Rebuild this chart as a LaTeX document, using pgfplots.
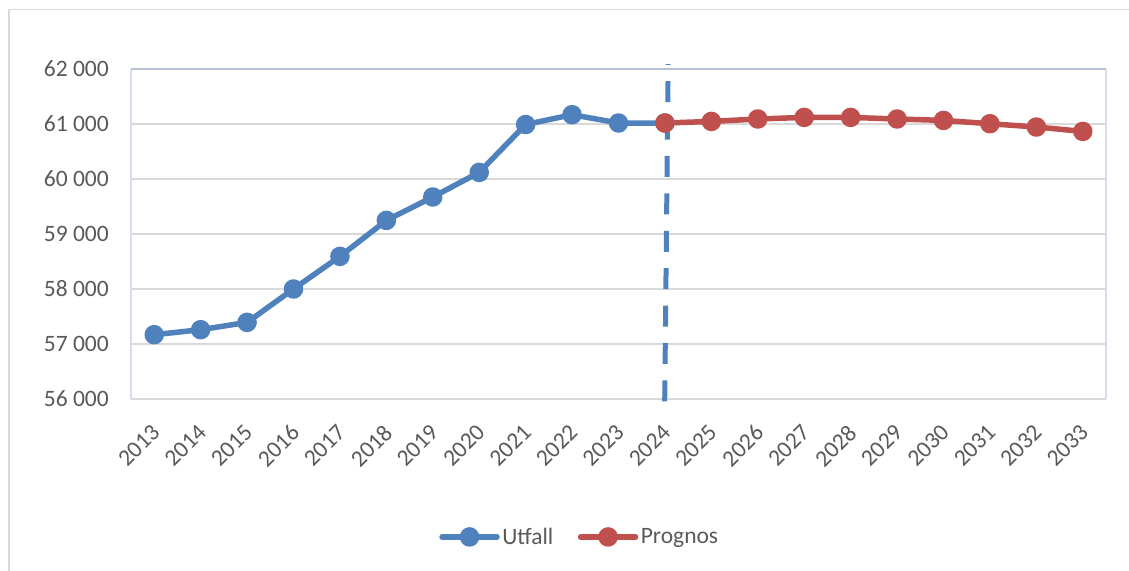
\documentclass[border=0pt]{standalone}
\usepackage{fontspec}
\setmainfont{Carlito}
\usepackage{pgfplots}
\pgfplotsset{compat=1.18}

\definecolor{utfall}{HTML}{4F81BD}
\definecolor{prognos}{HTML}{C0504D}
\definecolor{lbl}{HTML}{595959}
\definecolor{gridc}{HTML}{D9D9D9}
\definecolor{framec}{HTML}{D9D9D9}
\definecolor{axblue}{HTML}{D5DEEC}
\definecolor{axtop}{HTML}{B7C1D1}

\begin{document}
\begin{tikzpicture}
\useasboundingbox (0pt,0pt) rectangle (1129pt,570pt);
% outer chart frame (cut off at right and bottom)
\draw[framec, line width=1.5pt] (9pt,-5pt) -- (9pt,560.5pt) -- (1140pt,560.5pt);
\begin{axis}[
  at={(131pt,171pt)}, anchor=south west,
  scale only axis, width=975pt, height=330pt,
  xmin=-0.5, xmax=20.5,
  ymin=56000, ymax=62000,
  scaled y ticks=false,
  xtick={0,...,20},
  xticklabels={2013,2014,2015,2016,2017,2018,2019,2020,2021,2022,2023,2024,2025,2026,2027,2028,2029,2030,2031,2032,2033},
  ytick={56000,57000,58000,59000,60000,61000,62000},
  yticklabels={56 000,57 000,58 000,59 000,60 000,61 000,62 000},
  major tick length=0pt,
  axis line style={draw=none},
  ymajorgrids, grid style={gridc, line width=1.5pt},
  tick label style={font=\fontsize{23.5}{28}\selectfont, text=lbl},
  /pgf/number format/assume math mode=true,
  yticklabel style={anchor=east, inner sep=0pt, xshift=-22pt},
  xticklabel style={xshift=-4pt, yshift=-24pt, rotate=45, anchor=north east, inner sep=0pt},
  clip=false,
  legend columns=2,
  legend style={at={(0.4605,-0.418)}, anchor=center, draw=none, fill=none,
    font=\fontsize{23.5}{28}\selectfont, text=lbl,
    nodes={inner sep=2.5pt},
    /tikz/every even column/.append style={column sep=22pt}},
  legend image code/.code={\draw[mark repeat=2, mark phase=2, line cap=round, #1]
    plot coordinates {(0pt,0pt) (27.5pt,0pt) (55pt,0pt)};},
]
\draw[axblue, line width=1.5pt] (rel axis cs:0,0) -- (rel axis cs:0,1);
\draw[axblue, line width=1.5pt] (rel axis cs:1,0) -- (rel axis cs:1,1);
\draw[axtop, line width=1.5pt] (rel axis cs:0,1) -- (rel axis cs:1,1);

% vertical dashed divider at 2024
\addplot[utfall, line width=5pt, dash pattern=on 21pt off 16.4pt, forget plot]
  coordinates {(10.995,55957) (11.07,62087)};

\addplot[utfall, line width=5.5pt, line join=round, mark=*, mark size=7pt, mark options={solid}]
  coordinates {
  (0,57169) (1,57260) (2,57393) (3,58000) (4,58593) (5,59247)
  (6,59673) (7,60120) (8,60990) (9,61169) (10,61018) (11,61018)
};
\addlegendentry{Utfall}

\addplot[prognos, line width=5.5pt, line join=round, mark=*, mark size=7pt, mark options={solid}]
  coordinates {
  (11,61018) (12,61047) (13,61091) (14,61120) (15,61120) (16,61091)
  (17,61065) (18,61005) (19,60945) (20,60865)
};
\addlegendentry{Prognos}
\end{axis}
\end{tikzpicture}
\end{document}
